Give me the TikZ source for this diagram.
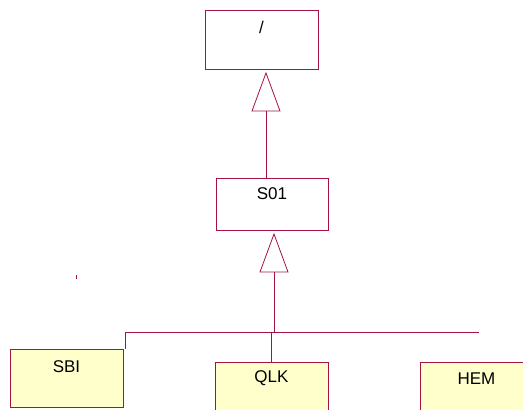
\documentclass[tikz,border=0pt]{standalone}
\usepackage{fontspec}
\setmainfont{Liberation Sans}
\usetikzlibrary{calc,positioning}
\definecolor{umlred}{RGB}{165,20,65}
\definecolor{umlyellow}{RGB}{255,255,204}
\begin{document}
\begin{tikzpicture}[x=1pt,y=-1pt,
    link/.style={umlred,line width=0.8pt},
    classbox/.style={draw=umlred,line width=0.8pt,fill=white,minimum width=113pt,inner sep=0pt},
    leafbox/.style={classbox,fill=umlyellow,minimum height=58pt},
    classtext/.style={font=\fontsize{17}{20}\selectfont,inner sep=0pt}]
    \useasboundingbox (0,0) rectangle (523,410);
    \clip (0,0) rectangle (523,410);
    % Clases superiores
    \node[classbox,minimum height=59pt] (root) at (261.5,39.5) {};
    \node[classtext] (rootlbl) at ($(root.north)+(0,18)$) {/};
    \node[classbox,minimum width=112pt,minimum height=52pt] (s01) at (272,204) {};
    \node[classtext] (s01lbl) at ($(s01.north)+(0,16)$) {S01};
    % Hojas (recortadas por el borde)
    \node[leafbox] (sbi) at (66.5,378) {};
    \node[classtext] (sbilbl) at ($(sbi.north)+(0,18)$) {SBI};
    \node[leafbox] (qlk) at (271.5,391) {};
    \node[classtext] (qlklbl) at ($(qlk.north)+(0,17)$) {QLK};
    \node[leafbox] (hem) at (476.5,391) {};
    \node[classtext] (hemlbl) at ($(hem.north)+(0,17)$) {HEM};
    % Generalizacion S01 -> /
    \coordinate (tipA) at (266,73);
    \coordinate (baseA) at (266,111);
    \draw[link,fill=white] (tipA) -- ++(-14,38) -- ++(28,0) -- cycle;
    \draw[link] (baseA) -- (baseA |- s01.north);
    % Generalizacion hojas -> S01
    \coordinate (tipB) at (274,234);
    \coordinate (baseB) at (274,272);
    \coordinate (busL) at (125,332);
    \coordinate (busR) at (479,332);
    \draw[link,fill=white] (tipB) -- ++(-14,38) -- ++(28,0) -- cycle;
    \draw[link] (baseB) -- (baseB |- busL);
    \draw[link] (busL) -- (busR);
    \draw[link] (busL) -- (busL |- sbi.north);
    \draw[link] (qlk.north) -- (qlk.north |- busL);
    % Marca suelta
    \coordinate (tick) at (76,275);
    \draw[link] (tick) -- ++(0,4);
\end{tikzpicture}
\end{document}
